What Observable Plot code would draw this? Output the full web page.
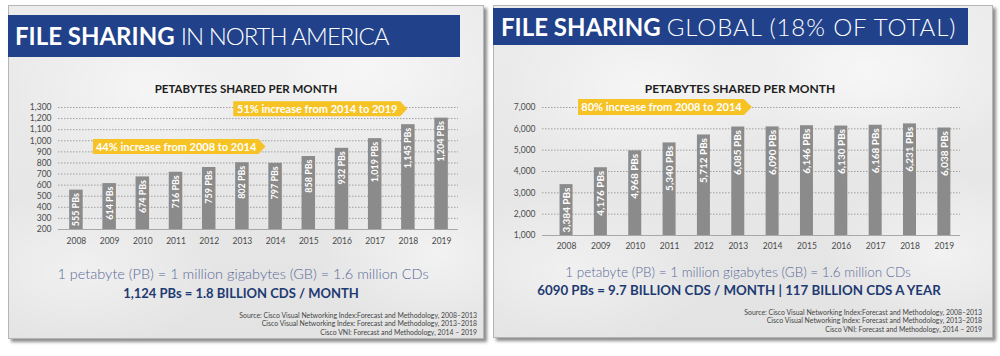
<!DOCTYPE html>
<html><head><meta charset="utf-8">
<script src="https://cdn.jsdelivr.net/npm/d3@7"></script>
<script src="https://cdn.jsdelivr.net/npm/@observablehq/plot@0.6"></script>
<style>
html,body{margin:0;padding:0;}
body{width:1000px;height:356px;background:#fff;position:relative;overflow:hidden;font-family:Lato,"Open Sans",sans-serif;}
.panel{position:absolute;box-sizing:border-box;border:1px solid #b5b5b5;box-shadow:3px 3px 3px rgba(0,0,0,.45);
  background:
   radial-gradient(ellipse 140px 90px at 30% 25%, rgba(255,255,255,.55), rgba(255,255,255,0)),
   radial-gradient(ellipse 160px 90px at 75% 20%, rgba(255,255,255,.6), rgba(255,255,255,0)),
   radial-gradient(ellipse 120px 80px at 90% 75%, rgba(255,255,255,.5), rgba(255,255,255,0)),
   radial-gradient(ellipse 140px 80px at 15% 80%, rgba(255,255,255,.45), rgba(255,255,255,0)),
   linear-gradient(#ececec,#e3e3e3);}
.band{position:absolute;background:#21428a;color:#fff;white-space:nowrap;box-sizing:border-box;}
.band span.b{font-weight:700;}
.band span.l{font-weight:300;}
.t{position:absolute;white-space:nowrap;}
.ctitle{font-weight:700;font-size:11.5px;color:#1d1d1d;text-align:center;width:300px;}
.l1{font-weight:300;font-size:14.5px;color:#5a6a98;text-align:center;width:500px;}
.l2{font-weight:700;font-size:13px;color:#1e3a72;text-align:center;width:500px;}
.src{font-size:6.9px;color:#444;text-align:right;line-height:8.3px;}
.chart{position:absolute;}
</style></head>
<body>
<div class="panel" style="left:8px;top:5px;width:476px;height:334px;"></div>
<div class="panel" style="left:493px;top:5px;width:500px;height:333px;"></div>

<div class="band" style="left:8px;top:15px;width:452px;height:42px;line-height:42px;font-size:24px;padding-left:7px;"><span class="b">FILE SHARING</span> <span class="l" style="letter-spacing:-1px;">IN NORTH AMERICA</span></div>
<div class="band" style="left:493px;top:8px;width:475px;height:37px;line-height:37px;font-size:24px;padding-left:8px;"><span class="b">FILE SHARING</span> <span class="l" style="letter-spacing:0.9px;">GLOBAL (18% OF TOTAL)</span></div>

<div class="t ctitle" style="left:96px;top:82px;">PETABYTES SHARED PER MONTH</div>
<div class="t ctitle" style="left:590px;top:81px;font-size:12px;">PETABYTES SHARED PER MONTH</div>

<div id="c1" class="chart" style="left:8px;top:95px;"></div>
<div id="c2" class="chart" style="left:493px;top:95px;"></div>

<div class="t l1" style="left:-7px;top:265px;">1 petabyte (PB) = 1 million gigabytes (GB) = 1.6 million CDs</div>
<div class="t l2" style="left:-9px;top:285px;">1,124 PBs = 1.8 BILLION CDS / MONTH</div>
<div class="t l1" style="left:488px;top:264px;font-size:13.5px;">1 petabyte (PB) = 1 million gigabytes (GB) = 1.6 million CDs</div>
<div class="t l2" style="left:489px;top:282px;font-size:13.3px;">6090 PBs = 9.7 BILLION CDS / MONTH | 117 BILLION CDS A YEAR</div>

<div class="t src" style="right:523px;top:311px;">Source: Cisco Visual Networking Index:Forecast and Methodology, 2008–2013<br>Cisco Visual Networking Index: Forecast and Methodology, 2013–2018<br>Cisco VNI: Forecast and Methodology, 2014 – 2019</div>
<div class="t src" style="right:18px;top:308px;">Source: Cisco Visual Networking Index:Forecast and Methodology, 2008–2013<br>Cisco Visual Networking Index: Forecast and Methodology, 2013–2018<br>Cisco VNI: Forecast and Methodology, 2014 – 2019</div>

<script>
const years = [2008,2009,2010,2011,2012,2013,2014,2015,2016,2017,2018,2019];
const northAmericaPB = [555,614,674,716,759,802,797,858,932,1019,1145,1204];
const globalPB = [3384,4176,4968,5340,5712,6085,6090,6146,6130,6168,6231,6038];
const northAmericaTicks = [200,300,400,500,600,700,800,900,1000,1100,1200,1300];
const globalTicks = [1000,2000,3000,4000,5000,6000,7000];
const northAmericaNotes = ["44% increase from 2008 to 2014", "51% increase from 2014 to 2019"];
const northAmericaNoteFrom = [2008.51, 2012.74];
const northAmericaNoteTo = [2013.71, 2017.98];
const northAmericaNoteLevel = [944, 1285];
const globalNotes = ["80% increase from 2008 to 2014"];
const globalNoteFrom = [2008.35];
const globalNoteTo = [2013.41];
const globalNoteLevel = [7000];

const fmt = d3.format(",");

function chart(cfg) {
  const data = years.map((year, i) => ({year, value: cfg.values[i]}));
  const plotH = cfg.height - cfg.marginTop - cfg.marginBottom;
  const plotW = cfg.width - cfg.marginLeft - cfg.marginRight;
  const uy = (cfg.yDomain[1] - cfg.yDomain[0]) / plotH;
  const ux = (cfg.xDomain[1] - cfg.xDomain[0]) / plotW;
  const half = cfg.bannerHalfPx * uy;
  const tip = cfg.tipPx * ux;
  const barHalf = cfg.barPx / 2 * ux;
  const banners = cfg.notes.flatMap((t, i) => {
    const a = cfg.from[i], b = cfg.to[i], m = cfg.level[i];
    return [{k: i, x: a, y1: m - half, y2: m + half},
            {k: i, x: b - tip, y1: m - half, y2: m + half},
            {k: i, x: b, y1: m, y2: m}];
  });
  const labels = cfg.notes.map((t, i) => ({t, x: (cfg.from[i] + cfg.to[i] - tip) / 2, y: cfg.level[i]}));
  return Plot.plot({
    width: cfg.width, height: cfg.height,
    marginTop: cfg.marginTop, marginBottom: cfg.marginBottom,
    marginLeft: cfg.marginLeft, marginRight: cfg.marginRight,
    x: {domain: cfg.xDomain, ticks: years, tickFormat: d => String(d), tickSize: 0, tickPadding: cfg.xPad, label: null},
    y: {domain: cfg.yDomain, ticks: cfg.ticks, tickFormat: fmt, tickSize: 0, tickPadding: 7, label: null},
    style: {background: "transparent", fontFamily: "Lato, 'Open Sans', sans-serif", fontSize: "8.5px", color: "#4a4a4a", overflow: "visible"},
    marks: [
      Plot.ruleY(cfg.ticks.slice(1), {stroke: "#a0a0a0", strokeDasharray: "1.5,1.5", strokeWidth: 1}),
      Plot.ruleY([cfg.yDomain[0]], {stroke: "#a8a8a8", strokeWidth: 1}),
      Plot.rectY(data, {x1: d => d.year - barHalf, x2: d => d.year + barHalf, y1: cfg.yDomain[0], y2: "value", fill: "#8b8b8b"}),
      Plot.text(data, {x: "year", y: "value", text: d => fmt(d.value) + " PBs", rotate: -90, textAnchor: "end", lineAnchor: "middle", dy: 3, fill: "white", fontWeight: "bold", fontSize: cfg.barFont}),
      Plot.areaY(banners, {x: "x", y1: "y1", y2: "y2", z: "k", fill: "#f6c224"}),
      Plot.text(labels, {x: "x", y: "y", text: "t", fill: "white", fontWeight: "bold", fontSize: 11})
    ]
  });
}

document.getElementById("c1").append(chart({
  values: northAmericaPB, ticks: northAmericaTicks,
  yDomain: [200, 1300], xDomain: [2007.46, 2019.51],
  width: 476, height: 154, marginTop: 12, marginBottom: 20, marginLeft: 50, marginRight: 26,
  xPad: 8, barPx: 13.5, barFont: 9, bannerHalfPx: 7.5, tipPx: 7,
  notes: northAmericaNotes, from: northAmericaNoteFrom, to: northAmericaNoteTo, level: northAmericaNoteLevel
}));
document.getElementById("c2").append(chart({
  values: globalPB, ticks: globalTicks,
  yDomain: [1000, 7000], xDomain: [2007.30, 2019.47],
  width: 500, height: 160, marginTop: 12, marginBottom: 20, marginLeft: 49, marginRight: 33,
  xPad: 7, barPx: 13, barFont: 10, bannerHalfPx: 8, tipPx: 8,
  notes: globalNotes, from: globalNoteFrom, to: globalNoteTo, level: globalNoteLevel
}));
</script>
</body></html>
